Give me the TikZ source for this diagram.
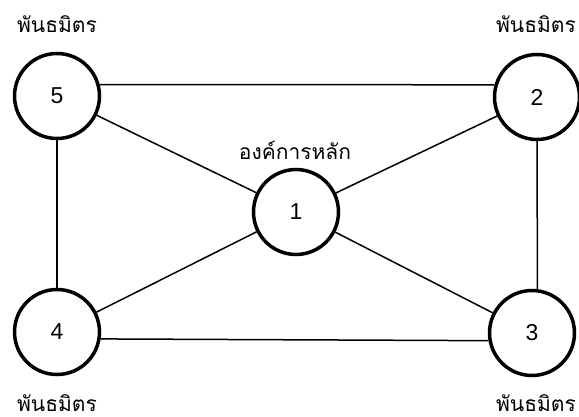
\documentclass[tikz,border=0pt]{standalone}
\usepackage{fontspec}
\setmainfont[Script=Thai]{Loma}
\newfontfamily\digfont{Liberation Sans}
\begin{document}
\begin{tikzpicture}[x=1pt,y=-1pt,
  party/.style={circle,draw=black,line width=3.5pt,minimum size=85pt,inner sep=0pt,font=\digfont\fontsize{23}{26}\selectfont},
  lbl/.style={font=\fontsize{21}{24}\selectfont,inner sep=0pt},
  link/.style={line width=1.5pt}]
\useasboundingbox (0,0) rectangle (579,417);
\node[party] (n5) at (57,96) {5};
\node[party] (n2) at (537,97) {2};
\node[party] (n1) at (296,212) {1};
\node[party] (n4) at (57,332) {4};
\node[party] (n3) at (532,333) {3};
\node[lbl] (t5) at (57,24) {พันธมิตร};
\node[lbl] (t2) at (536,24) {พันธมิตร};
\node[lbl] (t4) at (57,403) {พันธมิตร};
\node[lbl] (t3) at (536,403) {พันธมิตร};
\node[lbl] (t1) at (295,150) {องค์การหลัก};
\draw[link] (n5.15) -- (n2.164);
\draw[link] (n4.-9) -- (n3.190);
\draw[link] (n5) -- (n4);
\draw[link] (n2) -- (n3.83);
\draw[link] (n5) -- (n1);
\draw[link] (n2) -- (n1);
\draw[link] (n4) -- (n1);
\draw[link] (n3) -- (n1);
\end{tikzpicture}
\end{document}
